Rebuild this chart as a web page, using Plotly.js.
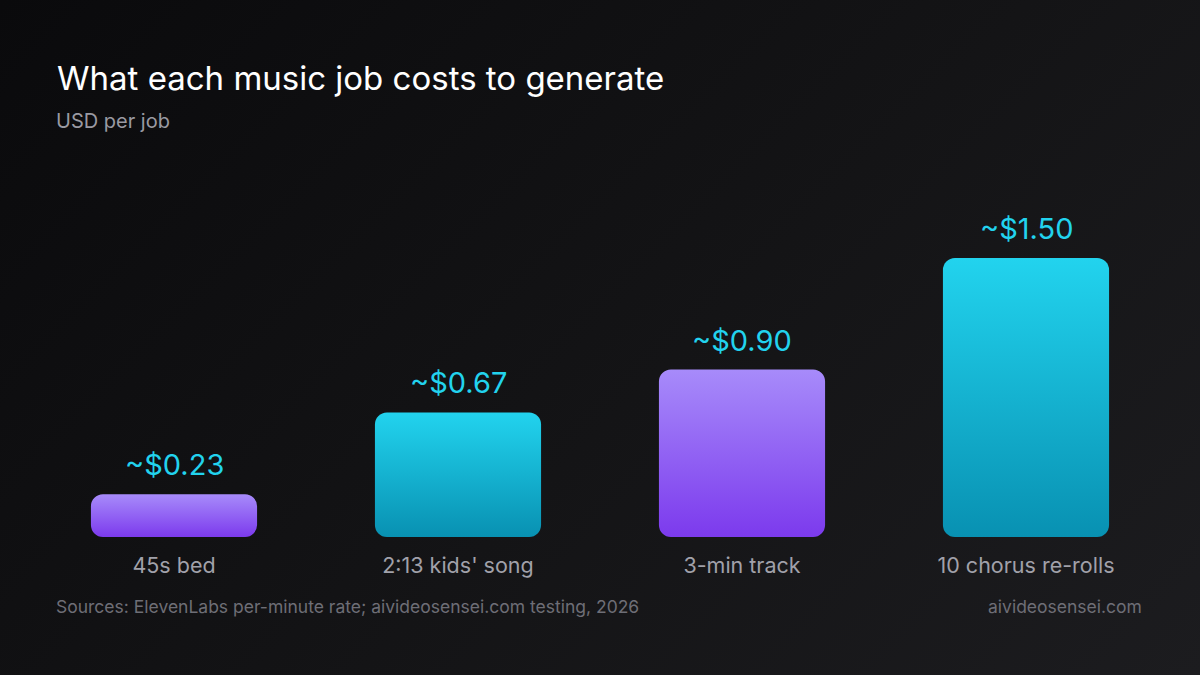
<!DOCTYPE html>
<html>
<head>
<meta charset="utf-8">
<script src="https://cdn.plot.ly/plotly-3.0.1.min.js"></script>
<style>
  html, body { margin: 0; padding: 0; }
  body {
    width: 1200px; height: 675px; overflow: hidden;
    background: linear-gradient(135deg, #0a0a0c 0%, #141416 55%, #1c1c1f 100%);
  }
  #chart { width: 1200px; height: 675px; }
</style>
</head>
<body>
<div id="chart"></div>
<script>
// music job cost per generation, USD
var jobs = ["45s bed", "2:13 kids' song", "3-min track", "10 chorus re-rolls"];
var costs = [0.23, 0.67, 0.90, 1.50];
var costLabels = ["~$0.23", "~$0.67", "~$0.90", "~$1.50"];
var barTheme = ["purple", "cyan", "purple", "cyan"];

var gradients = {
  purple: ["#a78bfa", "#7c3aed"],
  cyan: ["#22d3ee", "#0891b2"]
};

var FONT = "Inter, 'Noto Sans', sans-serif";
var RADIUS = 12;

var trace = {
  type: 'bar',
  x: jobs,
  y: costs,
  marker: {
    color: barTheme.map(function (t) { return gradients[t][1]; }),
    line: { width: 0 }
  },
  hoverinfo: 'skip'
};

var annotations = jobs.map(function (j, i) {
  return {
    x: j, y: costs[i], xref: 'x', yref: 'y',
    text: costLabels[i], showarrow: false,
    yanchor: 'bottom', yshift: 10,
    font: { family: FONT, size: 29, color: '#22d3ee' }
  };
});

annotations.push({
  text: 'USD per job', xref: 'paper', yref: 'paper',
  x: 0.0194, y: 1.118, xanchor: 'left', yanchor: 'middle', showarrow: false,
  font: { family: FONT, size: 20, color: '#9a9aa2' }
});
annotations.push({
  text: 'Sources: ElevenLabs per-minute rate; aivideosensei.com testing, 2026',
  xref: 'paper', yref: 'paper',
  x: 0.0194, y: -0.188, xanchor: 'left', yanchor: 'middle', showarrow: false,
  font: { family: FONT, size: 17.5, color: '#6e6e76' }
});
annotations.push({
  text: 'aivideosensei.com', xref: 'paper', yref: 'paper',
  x: 0.979, y: -0.188, xanchor: 'right', yanchor: 'middle', showarrow: false,
  font: { family: FONT, size: 17.5, color: '#6e6e76' }
});

var layout = {
  width: 1200, height: 675,
  paper_bgcolor: 'rgba(0,0,0,0)',
  plot_bgcolor: 'rgba(0,0,0,0)',
  margin: { l: 32, r: 32, t: 165, b: 138 },
  title: {
    text: 'What each music job costs to generate',
    xref: 'container', yref: 'container',
    x: 0.0475, xanchor: 'left', y: 0.884, yanchor: 'middle',
    font: { family: FONT, size: 33, color: '#ffffff' }
  },
  bargap: 0.415,
  showlegend: false,
  xaxis: {
    showgrid: false, zeroline: false, showline: false,
    ticks: '', ticklabelstandoff: 13,
    tickfont: { family: FONT, size: 21.5, color: '#a1a1aa' },
    fixedrange: true
  },
  yaxis: {
    range: [0, 2.0], visible: false, fixedrange: true
  },
  annotations: annotations
};

Plotly.newPlot('chart', [trace], layout, { displayModeBar: false, staticPlot: true }).then(function (gd) {
  // plotly bars have no gradient fill and only round the top corners,
  // so add svg gradients and redraw each bar's own box with all four corners rounded
  var svg = gd.querySelector('.main-svg');
  var ns = 'http://www.w3.org/2000/svg';
  var defs = svg.querySelector('defs') || svg.insertBefore(document.createElementNS(ns, 'defs'), svg.firstChild);
  Object.keys(gradients).forEach(function (name) {
    var g = document.createElementNS(ns, 'linearGradient');
    g.setAttribute('id', 'bar-grad-' + name);
    g.setAttribute('x1', '0'); g.setAttribute('y1', '0');
    g.setAttribute('x2', '0'); g.setAttribute('y2', '1');
    [[0, gradients[name][0]], [1, gradients[name][1]]].forEach(function (s) {
      var stop = document.createElementNS(ns, 'stop');
      stop.setAttribute('offset', s[0]);
      stop.setAttribute('stop-color', s[1]);
      g.appendChild(stop);
    });
    defs.appendChild(g);
  });
  var paths = gd.querySelectorAll('.bars .point path');
  paths.forEach(function (p, i) {
    var b = p.getBBox();
    var r = Math.min(RADIUS, b.width / 2, b.height / 2);
    var x0 = b.x, y0 = b.y, x1 = b.x + b.width, y1 = b.y + b.height;
    p.setAttribute('d',
      'M' + (x0 + r) + ',' + y0 + 'H' + (x1 - r) +
      'A' + r + ',' + r + ' 0 0 1 ' + x1 + ',' + (y0 + r) +
      'V' + (y1 - r) +
      'A' + r + ',' + r + ' 0 0 1 ' + (x1 - r) + ',' + y1 +
      'H' + (x0 + r) +
      'A' + r + ',' + r + ' 0 0 1 ' + x0 + ',' + (y1 - r) +
      'V' + (y0 + r) +
      'A' + r + ',' + r + ' 0 0 1 ' + (x0 + r) + ',' + y0 + 'Z');
    p.style.fill = 'url(#bar-grad-' + barTheme[i] + ')';
  });
});
</script>
</body>
</html>
